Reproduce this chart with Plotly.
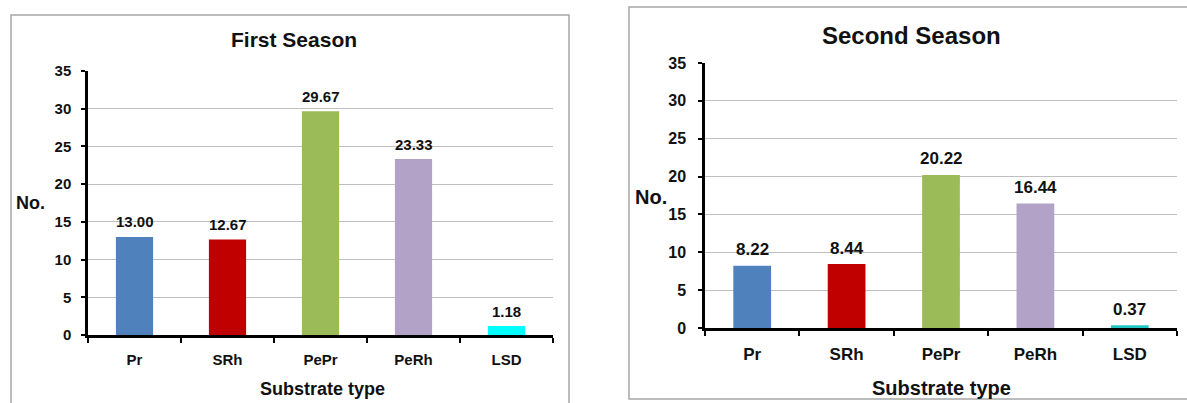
import plotly.graph_objects as go

# Substrate categories and mean counts per season
substrates = ["Pr", "SRh", "PePr", "PeRh", "LSD"]
first_season = [13.00, 12.67, 29.67, 23.33, 1.18]
second_season = [8.22, 8.44, 20.22, 16.44, 0.37]
y_ticks = [0, 5, 10, 15, 20, 25, 30, 35]

colors_first = ["#4F81BD", "#C00000", "#9BBB59", "#B2A2C7", "#00FFFF"]
colors_second = ["#4F81BD", "#C00000", "#9BBB59", "#B2A2C7", "#22C4C4"]

W, H = 1187, 403
FONT = "Liberation Sans, Arial, sans-serif"
TXT = "#111111"


def px_x(p):
    return p / W


def px_y(p):
    return 1 - p / H


panels = [
    dict(xa="x", ya="y", vals=first_season, colors=colors_first, title="First Season",
         xdom=[px_x(88), px_x(553)], ydom=[px_y(335), px_y(71)],
         box=(11, 15, 569, 410), title_xy=(294, 39), title_size=21,
         no_xy=(30, 203), no_size=18, sub_xy=(322, 389), sub_size=18,
         tick_size=15, cat_size=15, lab_size=15, lab_shift=15,
         ystand=7, xstand=9),
    dict(xa="x2", ya="y2", vals=second_season, colors=colors_second, title="Second Season",
         xdom=[px_x(705), px_x(1177)], ydom=[px_y(328), px_y(63)],
         box=(629, 7, 1200, 399), title_xy=(911, 35), title_size=24,
         no_xy=(651, 197), no_size=20, sub_xy=(941, 388), sub_size=20,
         tick_size=16, cat_size=17, lab_size=17, lab_shift=16,
         ystand=9, xstand=9),
]

fig = go.Figure()
annotations = []
shapes = []

for i, p in enumerate(panels):
    fig.add_trace(go.Bar(
        x=substrates, y=p["vals"], marker=dict(color=p["colors"], line=dict(width=0)),
        width=0.4, xaxis=p["xa"], yaxis=p["ya"], showlegend=False,
        hoverinfo="x+y",
    ))
    # value labels above bars
    for cat, v in zip(substrates, p["vals"]):
        annotations.append(dict(
            x=cat, y=v, xref=p["xa"], yref=p["ya"], text=f"{v:.2f}",
            showarrow=False, yanchor="middle", yshift=p["lab_shift"],
            font=dict(family=FONT, size=p["lab_size"], color=TXT, weight="bold"),
        ))
    # panel title, y label and x label
    annotations.append(dict(
        x=px_x(p["title_xy"][0]), y=px_y(p["title_xy"][1]), xref="paper", yref="paper",
        text=p["title"], showarrow=False, xanchor="center", yanchor="middle",
        font=dict(family=FONT, size=p["title_size"], color=TXT, weight="bold"),
    ))
    annotations.append(dict(
        x=px_x(p["no_xy"][0]), y=px_y(p["no_xy"][1]), xref="paper", yref="paper",
        text="No.", showarrow=False, xanchor="center", yanchor="middle",
        font=dict(family=FONT, size=p["no_size"], color=TXT, weight="bold"),
    ))
    annotations.append(dict(
        x=px_x(p["sub_xy"][0]), y=px_y(p["sub_xy"][1]), xref="paper", yref="paper",
        text="Substrate type", showarrow=False, xanchor="center", yanchor="middle",
        font=dict(family=FONT, size=p["sub_size"], color=TXT, weight="bold"),
    ))
    # chart-area frame
    x0, y0, x1, y1 = p["box"]
    shapes.append(dict(
        type="rect", xref="paper", yref="paper",
        x0=px_x(x0), x1=px_x(x1), y0=px_y(y1), y1=px_y(y0),
        line=dict(color="#A6A6A6", width=1.5), fillcolor="rgba(0,0,0,0)", layer="below",
    ))

    suffix = "" if i == 0 else str(i + 1)
    fig.update_layout(**{
        "xaxis" + suffix: dict(
            domain=p["xdom"], anchor=p["ya"], type="category", automargin=False,
            showline=True, linecolor="black", linewidth=2.5,
            ticks="outside", tickson="boundaries", ticklen=5, tickwidth=2, tickcolor="black",
            showgrid=False, zeroline=False, fixedrange=True,
            ticklabelstandoff=p["xstand"],
            tickfont=dict(family=FONT, size=p["cat_size"], color=TXT, weight="bold"),
        ),
        "yaxis" + suffix: dict(
            domain=p["ydom"], anchor=p["xa"], range=[0, 35], automargin=False,
            tickvals=y_ticks, ticktext=[str(t) for t in y_ticks],
            showline=True, linecolor="black", linewidth=2.5,
            ticks="outside", ticklen=4, tickwidth=2, tickcolor="black",
            showgrid=True, gridcolor="#BFBFBF", gridwidth=1.2,
            zeroline=False, fixedrange=True,
            ticklabelstandoff=p["ystand"],
            tickfont=dict(family=FONT, size=p["tick_size"], color=TXT, weight="bold"),
        ),
    })

fig.update_layout(
    template="none", autosize=False,
    width=W, height=H, margin=dict(l=0, r=0, t=0, b=0, pad=0),
    paper_bgcolor="white", plot_bgcolor="white",
    annotations=annotations, shapes=shapes, bargap=0.6,
)

fig.write_html("out.html", config={"displayModeBar": False})
